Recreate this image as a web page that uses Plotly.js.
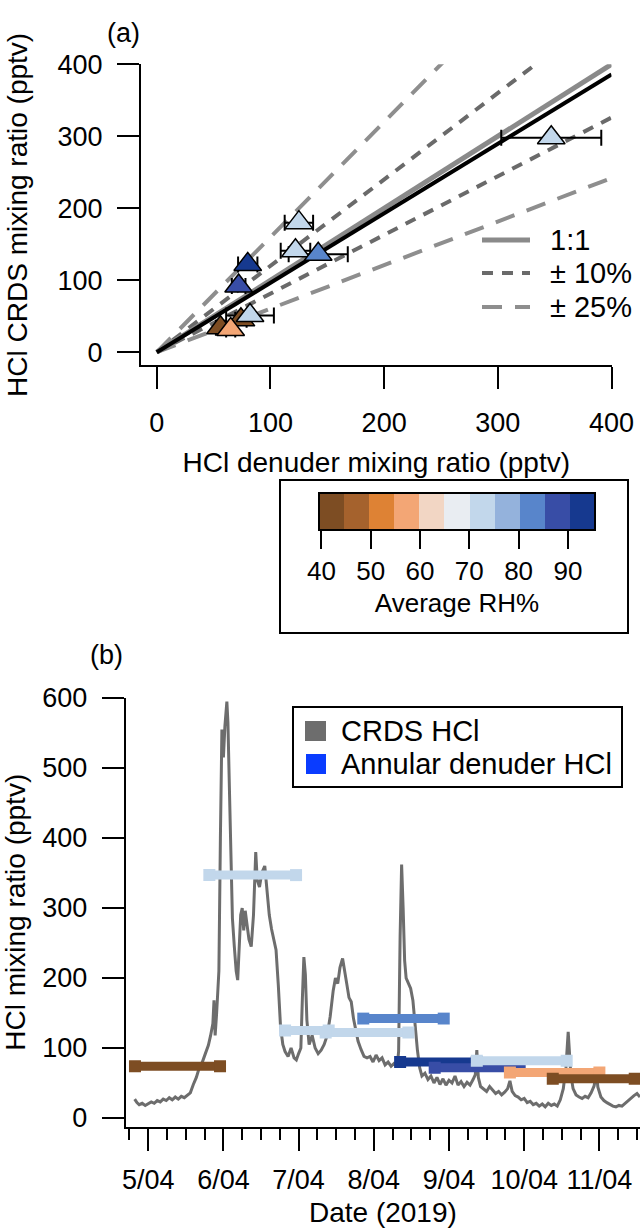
<!DOCTYPE html>
<html><head><meta charset="utf-8">
<script src="https://cdn.plot.ly/plotly-3.0.1.min.js"></script>
<style>html,body{margin:0;padding:0;background:#fff}</style>
</head><body>
<div id="chart" style="width:640px;height:1228px"></div>
<script>
// ---------------- data ----------------
const rhBandColors = ['#7d4d23','#a5622d','#de8234','#f3a675','#f2d6c4','#e9edf2','#c2d7eb','#94b2dc','#5885cb','#384da6','#16398f'];
const rhTicks = [40, 50, 60, 70, 80, 90];
const rhMin = 39.5, rhMax = 95.5;

// denuder samples (days after 2019-04-05 00:00)
const sampleStartDay = [-0.176, 0.813, 1.82, 2.36, 2.86, 3.35, 3.81, 4.37, 4.81, 5.38];
const sampleEndDay   = [0.955, 1.966, 2.40, 3.46, 3.93, 4.37, 4.94, 5.565, 6.00, 6.47];
const denuderHCl     = [74, 347, 125, 122, 142, 80, 72, 82, 65, 56];
const crdsAvgHCl     = [45, 298, 180, 141, 136, 122, 92, 51, 31.5, 34];
const denuderErr     = [5, 44, 12.5, 13, 26, 8.5, 6, 21, 4, 4];
const sampleRH       = [43, 72, 72, 72, 82, 93, 88, 72, 57, 43];
const drawOrder      = [0, 1, 2, 3, 4, 5, 6, 7, 9, 8];

// reference lines
const refX = [0, 400];
const oneToOneSlope = 1.0;
const fitSlope = 0.965;
const band10Slopes = [1.2, 0.815];
const band25Slopes = [1.6, 0.605];
const legendALabels = ['1:1', '± 10%', '± 25%'];
const legendBLabels = ['CRDS HCl', 'Annular denuder HCl'];

// CRDS time series (days after 2019-04-05 00:00, pptv)
const crdsDay = [-0.18,-0.15,-0.12,-0.08,-0.04,0.00,0.04,0.08,0.12,0.16,0.20,0.24,0.28,0.32,0.36,0.40,0.44,0.48,0.52,0.56,0.60,0.64,0.68,0.72,0.76,0.80,0.83,0.86,0.875,0.89,0.91,0.94,0.96,0.98,1.00,1.02,1.046,1.06,1.08,1.10,1.12,1.145,1.17,1.19,1.21,1.23,1.25,1.27,1.29,1.31,1.34,1.37,1.40,1.43,1.45,1.48,1.51,1.55,1.58,1.61,1.64,1.67,1.70,1.73,1.76,1.79,1.82,1.86,1.90,1.94,1.97,2.00,2.03,2.05,2.07,2.09,2.11,2.14,2.18,2.22,2.26,2.30,2.34,2.38,2.42,2.46,2.49,2.52,2.55,2.585,2.61,2.64,2.67,2.70,2.73,2.76,2.79,2.83,2.87,2.91,2.95,2.99,3.03,3.07,3.11,3.15,3.19,3.23,3.27,3.31,3.33,3.35,3.37,3.39,3.41,3.43,3.46,3.49,3.52,3.55,3.58,3.61,3.64,3.68,3.72,3.76,3.80,3.84,3.88,3.92,3.96,4.00,4.04,4.08,4.12,4.16,4.20,4.24,4.28,4.32,4.35,4.37,4.39,4.42,4.46,4.50,4.54,4.58,4.62,4.66,4.70,4.74,4.78,4.81,4.84,4.88,4.92,4.96,5.00,5.04,5.08,5.12,5.16,5.20,5.24,5.28,5.32,5.36,5.40,5.44,5.48,5.52,5.555,5.585,5.60,5.62,5.65,5.69,5.73,5.77,5.81,5.85,5.89,5.93,5.96,5.98,6.02,6.06,6.10,6.14,6.18,6.22,6.26,6.30,6.34,6.38,6.42,6.46,6.50,6.54];
const crdsHCl = [27,22,19,21,18,20,23,21,25,23,27,25,29,26,30,27,31,29,32,36,48,58,72,80,92,104,118,135,168,118,150,210,400,555,515,560,595,565,470,360,285,245,210,197,240,290,300,268,296,280,255,245,290,380,340,330,350,360,320,290,270,255,240,190,130,105,95,88,100,86,83,92,100,170,230,205,140,105,118,100,92,97,105,118,145,182,200,192,215,228,208,192,172,166,142,126,110,98,88,86,88,80,90,82,86,76,80,74,78,73,95,260,362,300,225,200,192,185,168,130,97,72,60,64,55,60,50,58,48,56,47,54,50,60,47,52,45,51,47,55,62,97,58,45,42,38,45,40,35,38,33,37,42,53,38,32,30,26,28,22,24,19,21,17,20,16,21,18,20,17,26,42,72,123,100,62,42,33,30,28,31,29,36,46,64,44,30,25,22,19,17,16,18,17,21,24,29,32,35,30];

// ---------------- helpers ----------------
const W = 640, H = 1228;
const px = v => v / W;
const py = v => 1 - v / H;
const T0 = Date.UTC(2019, 3, 5);
function dayToDate(d) {
  const t = new Date(T0 + Math.round(d * 86400000));
  return t.toISOString().replace('T', ' ').slice(0, 19);
}
function rhColor(v) {
  let i = Math.floor((v - rhMin) / (rhMax - rhMin) * rhBandColors.length);
  i = Math.max(0, Math.min(rhBandColors.length - 1, i));
  return rhBandColors[i];
}
const colorscale = [];
rhBandColors.forEach((c, i) => {
  colorscale.push([i / rhBandColors.length, c]);
  colorscale.push([(i + 1) / rhBandColors.length, c]);
});
const FONT = 'Liberation Sans, Arial, Helvetica, sans-serif';

// ---------------- traces ----------------
const traces = [];
function slopeLine(slopes) {
  const x = [], y = [];
  slopes.forEach((s, k) => {
    if (k) { x.push(null); y.push(null); }
    refX.forEach(v => { x.push(v); y.push(v * s); });
  });
  return {x, y};
}
const l25 = slopeLine(band25Slopes);
traces.push({type:'scatter', mode:'lines', x:l25.x, y:l25.y, xaxis:'x', yaxis:'y',
  line:{color:'#8e8e8e', width:4, dash:'20px,13px'}, hoverinfo:'skip'});
const l10 = slopeLine(band10Slopes);
traces.push({type:'scatter', mode:'lines', x:l10.x, y:l10.y, xaxis:'x', yaxis:'y',
  line:{color:'#6a6a6a', width:4, dash:'11px,9px'}, hoverinfo:'skip'});
const l11 = slopeLine([oneToOneSlope]);
traces.push({type:'scatter', mode:'lines', x:l11.x, y:l11.y, xaxis:'x', yaxis:'y',
  line:{color:'#8a8a8a', width:5}, hoverinfo:'skip'});
const lfit = slopeLine([fitSlope]);
traces.push({type:'scatter', mode:'lines', x:lfit.x, y:lfit.y, xaxis:'x', yaxis:'y',
  line:{color:'#000', width:4}, hoverinfo:'skip'});

traces.push({
  type:'scatter', mode:'markers', xaxis:'x', yaxis:'y',
  x: drawOrder.map(i => denuderHCl[i]),
  y: drawOrder.map(i => crdsAvgHCl[i]),
  error_x: {type:'data', array: drawOrder.map(i => denuderErr[i]), color:'#000', thickness:2, width:8},
  marker: {
    symbol:'triangle-up', size:24,
    color: drawOrder.map(i => sampleRH[i]),
    colorscale: colorscale, cmin: rhMin, cmax: rhMax,
    line:{color:'#000', width:1.5},
    showscale: true,
    colorbar: {
      orientation:'h', x: px(457), xanchor:'center', y: py(493), yanchor:'top',
      len: 276, lenmode:'pixels', thickness: 37, thicknessmode:'pixels',
      xpad: 0, ypad: 0, outlinewidth: 2, outlinecolor:'#000',
      ticks:'outside', ticklen: 18, tickwidth: 2, tickcolor:'#000',
      tickmode:'array', tickvals: rhTicks, ticktext: rhTicks.map(String),
      tickfont:{family:FONT, size:26, color:'#000'},
      title:{text:'Average RH%', side:'bottom', font:{family:FONT, size:26, color:'#000'}}
    }
  },
  hoverinfo:'skip'
});

// panel b
traces.push({type:'scatter', mode:'lines', xaxis:'x2', yaxis:'y2',
  x: crdsDay.map(dayToDate), y: crdsHCl,
  line:{color:'#6d6d6d', width:3}, hoverinfo:'skip'});
sampleStartDay.forEach((s, i) => {
  const c = rhColor(sampleRH[i]);
  traces.push({type:'scatter', mode:'lines+markers', xaxis:'x2', yaxis:'y2',
    x:[dayToDate(s), dayToDate(sampleEndDay[i])], y:[denuderHCl[i], denuderHCl[i]],
    line:{color:c, width:9}, marker:{symbol:'square', size:12, color:c},
    hoverinfo:'skip'});
});

// ---------------- layout ----------------
const axBase = {
  showline:true, linewidth:2, linecolor:'#000', mirror:false,
  ticks:'outside', ticklen:22, tickwidth:2, tickcolor:'#000',
  showgrid:false, zeroline:false, fixedrange:true,
  tickfont:{family:FONT, size:27, color:'#000'}
};
const layout = {
  width: W, height: H, margin:{l:0, r:0, t:0, b:0, pad:0},
  paper_bgcolor:'#fff', plot_bgcolor:'rgba(0,0,0,0)', showlegend:false,
  font:{family:FONT, size:27, color:'#000'},
  xaxis: Object.assign({}, axBase, {
    domain:[px(141), px(611.5)], range:[-13.9, 400], anchor:'y',
    tickmode:'array', tickvals:[0,100,200,300,400], ticklabelstandoff:10,
    title:{text:'HCl denuder mixing ratio (pptv)', font:{family:FONT, size:28, color:'#000'}, standoff:16}
  }),
  yaxis: Object.assign({}, axBase, {
    domain:[py(365.4), py(64.3)], range:[-18.3, 400], anchor:'x',
    tickmode:'array', tickvals:[0,100,200,300,400], ticklabelstandoff:9,
    title:{text:'HCl CRDS mixing ratio (pptv)', font:{family:FONT, size:28, color:'#000'}, standoff:22}
  }),
  xaxis2: Object.assign({}, axBase, {
    domain:[px(125.8), 1], anchor:'y2', type:'date',
    range:[dayToDate(-0.298), dayToDate(6.54)],
    tick0:'2019-04-05', dtick:86400000, tickformat:'%-d/%m', ticklabelstandoff:6,
    minor:{dtick:21600000, ticks:'outside', ticklen:11, tickwidth:2, tickcolor:'#000', showgrid:false},
    title:{text:'Date (2019)', font:{family:FONT, size:28, color:'#000'}, standoff:26}
  }),
  yaxis2: Object.assign({}, axBase, {
    domain:[py(1126.5), py(698)], range:[-12.1, 600], anchor:'x2',
    tickmode:'array', tickvals:[0,100,200,300,400,500,600], ticklabelstandoff:9,
    title:{text:'HCl mixing ratio (pptv)', font:{family:FONT, size:28, color:'#000'}, standoff:22}
  }),
  shapes: [
    {type:'rect', xref:'paper', yref:'paper', x0:px(280), x1:px(628), y0:py(633), y1:py(480), line:{color:'#000', width:2}},
    {type:'line', xref:'paper', yref:'paper', x0:px(482), x1:px(530), y0:py(240), y1:py(240), line:{color:'#8a8a8a', width:5}},
    {type:'line', xref:'paper', yref:'paper', x0:px(482), x1:px(530), y0:py(273), y1:py(273), line:{color:'#6a6a6a', width:4, dash:'11px,9px'}},
    {type:'line', xref:'paper', yref:'paper', x0:px(482), x1:px(530), y0:py(307), y1:py(307), line:{color:'#8e8e8e', width:4, dash:'20px,13px'}},
    {type:'rect', xref:'paper', yref:'paper', x0:px(293), x1:px(622), y0:py(787), y1:py(707), line:{color:'#000', width:2}},
    {type:'rect', xref:'paper', yref:'paper', x0:px(305), x1:px(326), y0:py(741), y1:py(721), fillcolor:'#6d6d6d', line:{width:0}},
    {type:'rect', xref:'paper', yref:'paper', x0:px(306), x1:px(326), y0:py(774), y1:py(754), fillcolor:'#0a3cff', line:{width:0}}
  ],
  annotations: [
    {xref:'paper', yref:'paper', x:px(123), y:py(33), text:'(a)', showarrow:false, xanchor:'center', yanchor:'middle', font:{family:FONT, size:27, color:'#000'}},
    {xref:'paper', yref:'paper', x:px(106), y:py(655), text:'(b)', showarrow:false, xanchor:'center', yanchor:'middle', font:{family:FONT, size:27, color:'#000'}},
    {xref:'paper', yref:'paper', x:px(548), y:py(240), text:legendALabels[0], showarrow:false, xanchor:'left', yanchor:'middle', font:{family:FONT, size:29, color:'#000'}},
    {xref:'paper', yref:'paper', x:px(548), y:py(273), text:legendALabels[1], showarrow:false, xanchor:'left', yanchor:'middle', font:{family:FONT, size:29, color:'#000'}},
    {xref:'paper', yref:'paper', x:px(548), y:py(307), text:legendALabels[2], showarrow:false, xanchor:'left', yanchor:'middle', font:{family:FONT, size:29, color:'#000'}},
    {xref:'paper', yref:'paper', x:px(339), y:py(731), text:legendBLabels[0], showarrow:false, xanchor:'left', yanchor:'middle', font:{family:FONT, size:29, color:'#000'}},
    {xref:'paper', yref:'paper', x:px(339), y:py(764), text:legendBLabels[1], showarrow:false, xanchor:'left', yanchor:'middle', font:{family:FONT, size:29, color:'#000'}}
  ]
};

Plotly.newPlot('chart', traces, layout, {staticPlot:true, displayModeBar:false});
</script>
</body></html>
